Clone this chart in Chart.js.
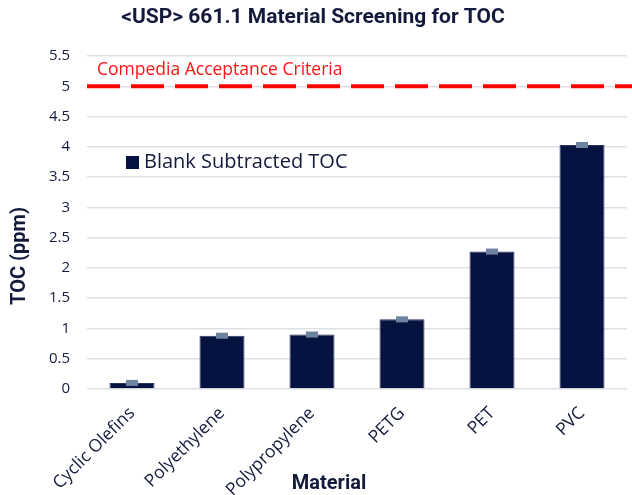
<!DOCTYPE html>
<html>
<head>
<meta charset="utf-8">
<script src="https://cdn.jsdelivr.net/npm/chart.js@4.4.1/dist/chart.umd.min.js"></script>
<style>
  html, body { margin: 0; padding: 0; background: #ffffff; }
  #wrap { width: 632px; height: 495px; position: relative; }
</style>
</head>
<body>
<div id="wrap"><canvas id="chart" width="632" height="495"></canvas></div>
<script>
// Materials screened and their blank-subtracted TOC results (ppm)
const materials = ['Cyclic Olefins', 'Polyethylene', 'Polypropylene', 'PETG', 'PET', 'PVC'];
const tocValues = [0.10, 0.88, 0.90, 1.15, 2.27, 4.03];
const tocErrors = [0.05, 0.05, 0.05, 0.05, 0.05, 0.05];
const acceptanceLimit = 5;
const yTicks = [0, 0.5, 1, 1.5, 2, 2.5, 3, 3.5, 4, 4.5, 5, 5.5];

const NAVY = '#06123f';
const TEXT = '#141a3c';
const FONT = '"Open Sans", "Noto Sans", sans-serif';
const BOLD = 'Roboto, "Noto Sans", sans-serif';

// Draws title, axis titles, legend, error caps and the acceptance line
const decorations = {
  id: 'decorations',
  afterDatasetsDraw(chart) {
    const { ctx, scales, chartArea } = chart;
    const y = scales.y;
    const meta = chart.getDatasetMeta(0);
    ctx.save();

    // error bars
    ctx.fillStyle = '#6d83a0';
    meta.data.forEach((bar, i) => {
      const top = y.getPixelForValue(tocValues[i] + tocErrors[i]);
      const bot = y.getPixelForValue(tocValues[i] - tocErrors[i]);
      ctx.fillRect(bar.x - 6, top, 12, bot - top);
    });

    // acceptance criterion line
    const ly = y.getPixelForValue(acceptanceLimit);
    ctx.strokeStyle = '#ff0000';
    ctx.lineWidth = 4;
    ctx.setLineDash([33, 11]);
    ctx.beginPath();
    ctx.moveTo(chartArea.left, ly);
    ctx.lineTo(chart.width, ly);
    ctx.stroke();
    ctx.setLineDash([]);

    ctx.fillStyle = '#ff1414';
    ctx.font = '17.5px ' + FONT;
    ctx.textAlign = 'left';
    ctx.textBaseline = 'middle';
    ctx.fillText('Compedia Acceptance Criteria', chartArea.left + 10, ly - 16);

    // legend
    ctx.fillStyle = NAVY;
    ctx.fillRect(126, 156, 13, 13);
    ctx.fillStyle = TEXT;
    ctx.font = '20px ' + FONT;
    ctx.fillText(chart.data.datasets[0].label, 144, 162);

    // chart title
    ctx.fillStyle = TEXT;
    ctx.font = 'bold 21px ' + BOLD;
    ctx.textAlign = 'center';
    ctx.fillText('<USP> 661.1 Material Screening for TOC', 313, 18);

    // x axis title
    ctx.font = 'bold 20px ' + BOLD;
    ctx.fillText('Material', 329, 484);

    // y axis title
    ctx.translate(20, 256);
    ctx.rotate(-Math.PI / 2);
    ctx.fillText('TOC (ppm)', 0, 0);
    ctx.restore();
  }
};

new Chart(document.getElementById('chart'), {
  type: 'bar',
  data: {
    labels: materials,
    datasets: [{
      label: 'Blank Subtracted TOC',
      data: tocValues,
      backgroundColor: NAVY,
      borderColor: '#2a3760',
      borderWidth: 1,
      barPercentage: 0.5,
      categoryPercentage: 1.0
    }]
  },
  options: {
    responsive: false,
    animation: false,
    events: [],
    layout: { padding: { top: 56, right: 5, left: 0, bottom: 0 } },
    plugins: {
      legend: { display: false },
      tooltip: { enabled: false },
      title: { display: false }
    },
    scales: {
      x: {
        afterFit(scale) { scale.height = 106; },
        grid: { display: false },
        border: { display: false },
        ticks: {
          color: TEXT,
          font: { family: FONT, size: 17.5 },
          minRotation: 45,
          maxRotation: 45,
          padding: 6
        }
      },
      y: {
        min: 0,
        max: 5.5,
        afterFit(scale) { scale.width = 87; },
        afterBuildTicks(scale) { scale.ticks = yTicks.map(v => ({ value: v })); },
        grid: { color: '#dde1e7', lineWidth: 1.5, drawTicks: false },
        border: { display: false },
        ticks: {
          color: TEXT,
          font: { family: FONT, size: 15 },
          padding: 17,
          callback: v => String(v)
        }
      }
    }
  },
  plugins: [decorations]
});
</script>
</body>
</html>
